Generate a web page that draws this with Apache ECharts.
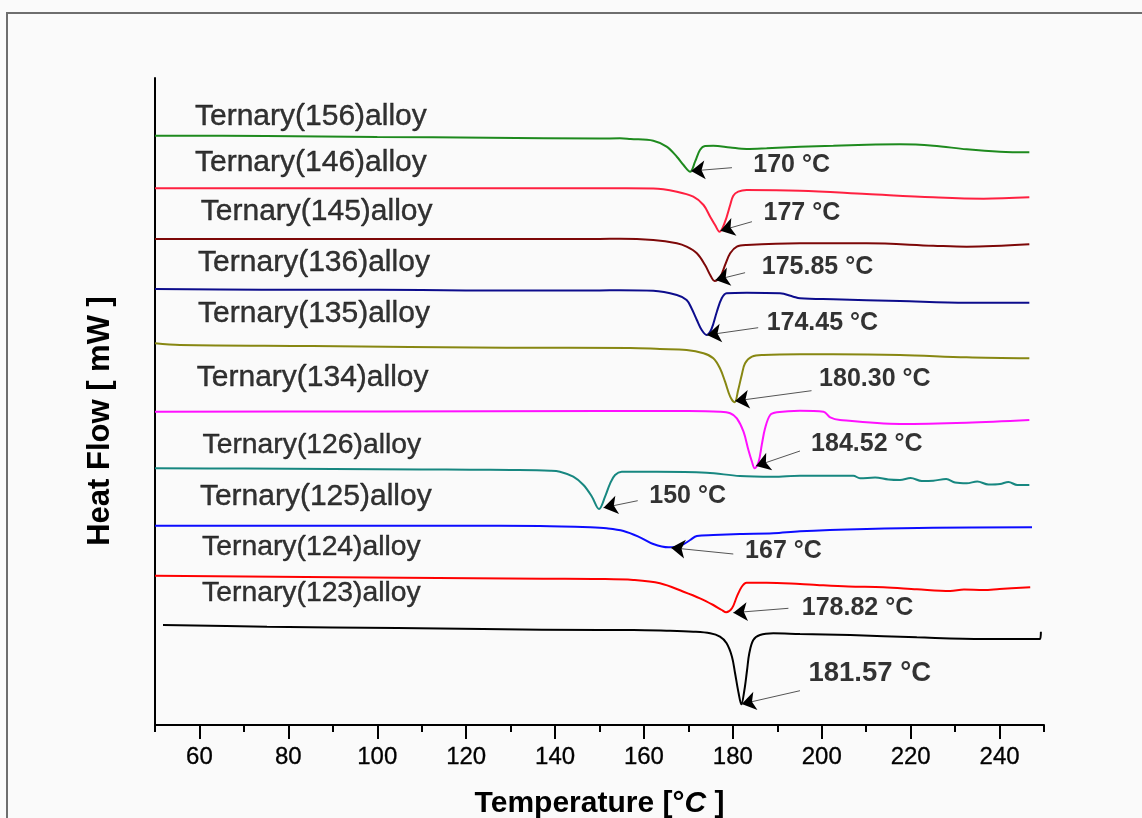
<!DOCTYPE html>
<html><head><meta charset="utf-8">
<script src="https://cdn.jsdelivr.net/npm/echarts@6/dist/echarts.min.js"></script>
<style>html,body{margin:0;padding:0;background:#fafafa}#c{width:1142px;height:818px}</style>
</head><body><div id="c"></div>
<script>
// ---- tick values ----
const majorTicks = [60, 80, 100, 120, 140, 160, 180, 200, 220, 240];

// ---- curves (temperature °C, heat flow, arbitrary offset units) ----
const t156 = [50, 75, 100, 125, 150, 154.6, 157, 162.1, 165.1, 167.4, 168.9, 170.4, 171.5, 172.6, 173.75, 175.6, 179.4, 183.1, 187.6, 195.1, 202.6, 210.1, 217.6, 225.1, 232.6, 240.1, 246.7];
const hf156 = [589.3, 589, 588, 587.3, 586.5, 586.7, 586, 584.3, 578.3, 568.3, 560, 553.3, 563.3, 575, 579, 579.3, 577.5, 576, 576.7, 578.3, 579.3, 580.3, 580.7, 579.3, 575.7, 573.3, 572.7];

const t146 = [50, 100, 150, 162.1, 167.4, 171.1, 173.4, 174.9, 176, 177, 178.25, 179.4, 180.1, 181.2, 183.1, 195.1, 210.1, 225.1, 236.4, 246.7];
const hf146 = [536.7, 536.7, 536.7, 536.5, 533.3, 528.3, 520, 508.3, 500, 493.3, 503.3, 520, 529.3, 533.3, 535, 534.3, 531, 527.7, 526.3, 527.7];

const t145 = [50, 100, 150, 154.6, 162.1, 167.4, 169.6, 171.9, 173.75, 174.9, 175.9, 177.2, 178.25, 179.4, 180.9, 183.1, 195.1, 210.1, 225.1, 232.6, 246.7];
const hf145 = [486, 486, 486, 486.3, 485, 481.7, 478.3, 471.7, 460, 450, 444, 448.3, 460, 471.7, 478.3, 480, 481.7, 481.7, 479.3, 478.3, 480.7];

const t136 = [50, 74, 100, 120, 150, 154.6, 162.1, 167.4, 169.6, 170.7, 171.9, 173, 174.1, 175.2, 176.4, 177.5, 178.6, 183.1, 190.6, 193.6, 195.1, 202.6, 217.6, 232.6, 246.7];
const hf136 = [436, 435.3, 435.3, 434.5, 434.5, 434.8, 434.3, 430, 425, 416.7, 405, 395, 390, 396, 413.3, 426.7, 431.7, 432.3, 431.7, 428.3, 426.7, 425.7, 424, 422.3, 422.3];

const t135 = [50, 55.6, 85.5, 129, 156.9, 163.6, 169.6, 173.4, 175.6, 177.1, 178.25, 179.4, 180.4, 181.2, 182, 182.75, 184.3, 186.9, 195.1, 202.6, 217.6, 232.6, 246.7];
const hf135 = [381.7, 380, 379, 377.3, 377, 376, 375, 371.7, 366.7, 356.7, 343.3, 328.3, 322.7, 335, 350, 361.7, 368.3, 370, 370.7, 370.7, 370, 367.7, 366.7];

const t134 = [50, 100, 150, 170, 177.1, 179.4, 180.9, 182.4, 183.5, 184.3, 184.9, 185.8, 186.5, 187.25, 188.4, 189.9, 195.1, 200.4, 201.9, 204.1, 217.6, 232.6, 246.7];
const hf134 = [313.3, 313.5, 314, 314, 313.3, 311.7, 306.7, 293.3, 275, 263.3, 256.7, 263.3, 280, 296.7, 310, 312.7, 314.3, 313.3, 307.7, 305, 301, 302.3, 305];

const t126 = [50, 70, 90, 110, 120.9, 130, 138.9, 141.1, 144.1, 146.4, 148.3, 149.9, 151.25, 152.4, 153.5, 155, 162.9, 174.1, 181.6, 189.1, 195.1, 207.1, 208.6, 212, 215, 217.6, 220, 222.5, 225.1, 228, 230, 232.6, 235, 237.5, 240.1, 242, 244, 246.7];
const hf126 = [256.7, 256.5, 256, 255.5, 255.3, 255, 254.3, 253.3, 248.3, 240, 228.3, 216, 228.3, 241.7, 250, 253.3, 253.3, 252.3, 249, 248.3, 249.3, 249.3, 246.7, 247.5, 245.5, 245, 247, 244, 244.3, 246, 242.5, 241.7, 243.5, 240.5, 241, 243, 240, 240];

const t125 = [50, 100, 118.6, 136.6, 147.9, 151.6, 155.4, 159.1, 162.1, 165.5, 168.1, 170.4, 171.9, 175.6, 181.6, 189.1, 195.1, 210.1, 225.1, 247.3];
const hf125 = [199.3, 199.3, 199.3, 199, 197.7, 196.7, 194, 187.7, 181, 177.7, 179, 185, 189, 190, 191, 191.7, 193.7, 196, 197.3, 197.7];

const t124 = [50, 105.8, 137.3, 150.1, 157.6, 163.6, 168.9, 172.6, 175.6, 177.5, 178.5, 179.8, 180.9, 182, 183.1, 187.6, 195.1, 198.9, 206, 213.9, 221.4, 228.9, 232, 236.4, 240, 246.9];
const hf124 = [149.3, 147.3, 146.3, 146, 145, 141.7, 133.3, 126.7, 120, 115, 112.7, 116.7, 128.3, 138.3, 142.3, 142.3, 141, 140, 138.5, 137.7, 135.7, 134, 135.5, 135, 136, 137.7];

const t123 = [51.8, 75.2, 104.5, 123.8, 150.1, 157.6, 165.1, 171.1, 174.9, 177.1, 178.6, 179.8, 180.5, 181.3, 181.9, 182.6, 183.2, 183.7, 184.6, 186.1, 189.1, 195.1, 206.4, 221.4, 236.4, 249.1, 249.3];
const hf123 = [100, 98.3, 97, 96, 95, 95, 94.3, 93.3, 91.7, 88.3, 81.7, 68.3, 51.7, 31.7, 20.7, 35, 55, 71.7, 85, 90, 91.7, 91, 90, 87.7, 86, 86, 93.3];

// ---- curve labels ----
const alloyNames = ['Ternary(156)alloy', 'Ternary(146)alloy', 'Ternary(145)alloy', 'Ternary(136)alloy', 'Ternary(135)alloy', 'Ternary(134)alloy', 'Ternary(126)alloy', 'Ternary(125)alloy', 'Ternary(124)alloy', 'Ternary(123)alloy'];
const alloyT = [59, 59, 60.3, 59.7, 59.7, 59.4, 60.7, 60.1, 60.6, 60.6];
const alloyY = [607.9, 561.9, 513.5, 462.2, 411.2, 347.2, 279.8, 228.5, 178.1, 131.5];

// ---- peak annotations ----
const peakText = ['170 °C', '177 °C', '175.85 °C', '174.45 °C', '180.30 °C', '184.52 °C', '150 °C', '167 °C', '178.82 °C', '181.57 °C'];
const peakLabelT = [184.6, 186.9, 186.5, 187.6, 199.4, 197.6, 161.2, 182.75, 195.5, 197];
const peakLabelY = [559.75, 512, 457.75, 401.5, 345.5, 280.5, 228.75, 173.75, 116.5, 51.3];
const arrowFrom = [[179.8, 557.3], [184.3, 503.3], [182.75, 452.3], [185.7, 397.3], [197.7, 334.3], [195.1, 274], [158.6, 224.3], [180.1, 171], [192.5, 116.7], [195.1, 34.3]];
const arrowTo = [[170.6, 554], [177.2, 494.3], [176.1, 445], [174.2, 390], [180.5, 324], [185.2, 259], [150.9, 217.3], [166.1, 177.3], [180.1, 112.3], [182, 21]];

const FONT = '"Liberation Sans", Arial, Helvetica, sans-serif';
const curves = [
  [t156, hf156, '#1e8a1e'], [t146, hf146, '#ff2040'], [t145, hf145, '#7d0808'],
  [t136, hf136, '#0c0c8c'], [t135, hf135, '#878712'], [t134, hf134, '#ff10ff'],
  [t126, hf126, '#178780'], [t125, hf125, '#0c0cff'], [t124, hf124, '#ff0000'],
  [t123, hf123, '#000000']
];
const zip = (a, b) => a.map((v, i) => [v, b[i]]);

const series = curves.map(c => ({
  type: 'line', data: zip(c[0], c[1]), showSymbol: false, symbol: 'none',
  smooth: 0.35, lineStyle: { color: c[2], width: 2 }, silent: true, z: 3
}));

const bigSizes = [30, 30, 30, 30, 30, 30, 28.3, 30, 28.3, 28.3];
series.push({
  type: 'scatter', symbolSize: 0, silent: true, z: 5,
  data: alloyNames.map((n, i) => ({
    value: [alloyT[i], alloyY[i]],
    label: { formatter: n, fontSize: bigSizes[i] }
  })),
  label: { show: true, position: 'right', distance: 0, color: '#000', fontFamily: FONT, align: 'left', verticalAlign: 'middle',
    textBorderColor: '#000', textBorderWidth: 0.4 }
});
series.push({
  type: 'scatter', symbolSize: 0, silent: true, z: 5,
  data: peakText.map((n, i) => ({
    value: [peakLabelT[i], peakLabelY[i]],
    label: { formatter: n, fontSize: i === 9 ? 27.5 : 25 }
  })),
  label: { show: true, position: 'right', distance: 0, color: '#000', fontFamily: FONT, fontWeight: 'bold', align: 'left', verticalAlign: 'middle' }
});
const arrowData = arrowFrom.map((f, i) => ({ coords: [f, arrowTo[i]] }));
series.push({
  type: 'lines', coordinateSystem: 'cartesian2d', silent: true, z: 4,
  data: arrowData, symbol: ['none', 'none'],
  lineStyle: { color: '#555', width: 1, opacity: 1, curveness: 0 }
});
series.push({
  type: 'lines', coordinateSystem: 'cartesian2d', silent: true, z: 4,
  data: arrowData, symbol: ['none', 'arrow'], symbolSize: 14,
  lineStyle: { color: '#000', width: 0, opacity: 1, curveness: 0 }
});

const chart = echarts.init(document.getElementById('c'), null, { renderer: 'canvas' });
chart.setOption({
  backgroundColor: '#fafafa',
  animation: false,
  grid: { left: 155, right: 98, top: 78, bottom: 93, containLabel: false, outerBoundsMode: 'none' },
  xAxis: [{
    type: 'value', min: 50, max: 250, interval: 10, position: 'bottom',
    axisLine: { show: true, onZero: false, lineStyle: { color: '#000', width: 2 } },
    axisTick: { show: true, length: 7, lineStyle: { color: '#000', width: 2 } },
    axisLabel: { show: false }, splitLine: { show: false },
    name: 'Temperature [°{i|C} ]', nameLocation: 'middle', nameGap: 64,
    nameTextStyle: { fontSize: 30, fontWeight: 'bold', color: '#000', fontFamily: FONT,
      rich: { i: { fontSize: 30, fontWeight: 'bold', fontStyle: 'italic', color: '#000', fontFamily: FONT } } }
  }, {
    type: 'value', min: 50, max: 250, interval: 10, position: 'bottom',
    axisLine: { show: false, onZero: false },
    axisTick: { show: true, length: 14, customValues: majorTicks, lineStyle: { color: '#000', width: 2 } },
    axisLabel: { show: true, customValues: majorTicks, margin: 20, fontSize: 24, color: '#000', fontFamily: FONT,
      textBorderColor: '#000', textBorderWidth: 0.3 },
    splitLine: { show: false }
  }],
  yAxis: {
    type: 'value', min: 0, max: 647,
    axisLine: { show: true, onZero: false, lineStyle: { color: '#000', width: 2 } },
    axisTick: { show: false }, axisLabel: { show: false }, splitLine: { show: false }
  },
  graphic: [
    { type: 'rect', shape: { x: 7, y: 13, width: 1300, height: 1000 }, style: { fill: 'none', stroke: '#6e6e6e', lineWidth: 2 }, silent: true },
    { type: 'text', x: 100, y: 421, rotation: Math.PI / 2,
      style: { text: 'Heat Flow [ mW ]', fontSize: 31, fontWeight: 'bold', fontFamily: FONT, fill: '#000', align: 'center', verticalAlign: 'middle' }, silent: true }
  ],
  series: series
});
</script></body></html>
